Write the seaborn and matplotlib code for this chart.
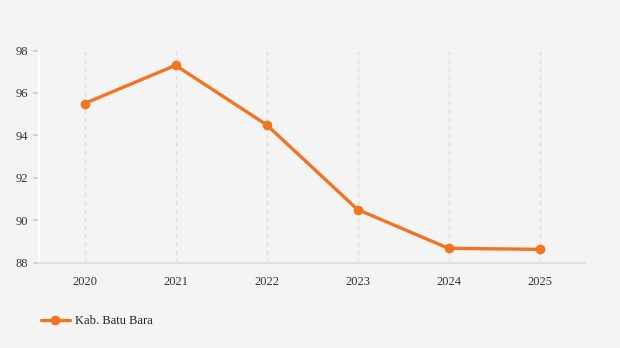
import matplotlib
matplotlib.use("Agg")
import matplotlib.pyplot as plt
import seaborn as sns
import pandas as pd

years = ["2020", "2021", "2022", "2023", "2024", "2025"]
values = [95.5, 97.3, 94.5, 90.5, 88.67, 88.62]
series_name = "Kab. Batu Bara"
y_ticks = [88, 90, 92, 94, 96, 98]

df = pd.DataFrame({"year": years, "value": values, "series": series_name})

sns.set_theme(style="white")
plt.rcParams["font.family"] = ["Liberation Serif", "DejaVu Serif"]

bg = "#f4f4f4"
orange = "#f47321"

fig = plt.figure(figsize=(6.2, 3.48), dpi=100, facecolor=bg)
ax = fig.add_axes([39/620, 1-262.5/348, (585-39)/620, (262.5-50.5)/348])
ax.set_facecolor(bg)

sns.lineplot(data=df, x="year", y="value", hue="series", palette=[orange],
             marker="o", markersize=7, markeredgewidth=0, linewidth=2.4,
             sort=False, ax=ax)

ax.set_xlim(-0.5, 5.5)
ax.set_ylim(88, 98)
ax.set_yticks(y_ticks)
ax.set_yticklabels([str(t) for t in y_ticks])
ax.set_xlabel("")
ax.set_ylabel("")

for i in range(len(years)):
    ax.axvline(i, color="#dddddd", linestyle=(0, (3, 3)), linewidth=1, zorder=0)

for s in ["top", "right"]:
    ax.spines[s].set_visible(False)
ax.spines["left"].set_color("white")
ax.spines["left"].set_linewidth(1.5)
ax.spines["bottom"].set_color("#e0e0e0")
ax.spines["bottom"].set_linewidth(1.5)

ax.tick_params(axis="y", length=4, color="#cccccc", labelsize=9, labelcolor="#333333", pad=4, left=True)
ax.tick_params(axis="x", length=0, labelsize=9, labelcolor="#333333", pad=10)

leg = ax.legend(loc="upper left", bbox_to_anchor=(0.0 - 3/546, -0.225), frameon=False,
                fontsize=9, handlelength=2.3, handletextpad=0.45, borderaxespad=0)
for t in leg.get_texts():
    t.set_color("#222222")

fig.savefig("out.png", dpi=100, facecolor=bg)
